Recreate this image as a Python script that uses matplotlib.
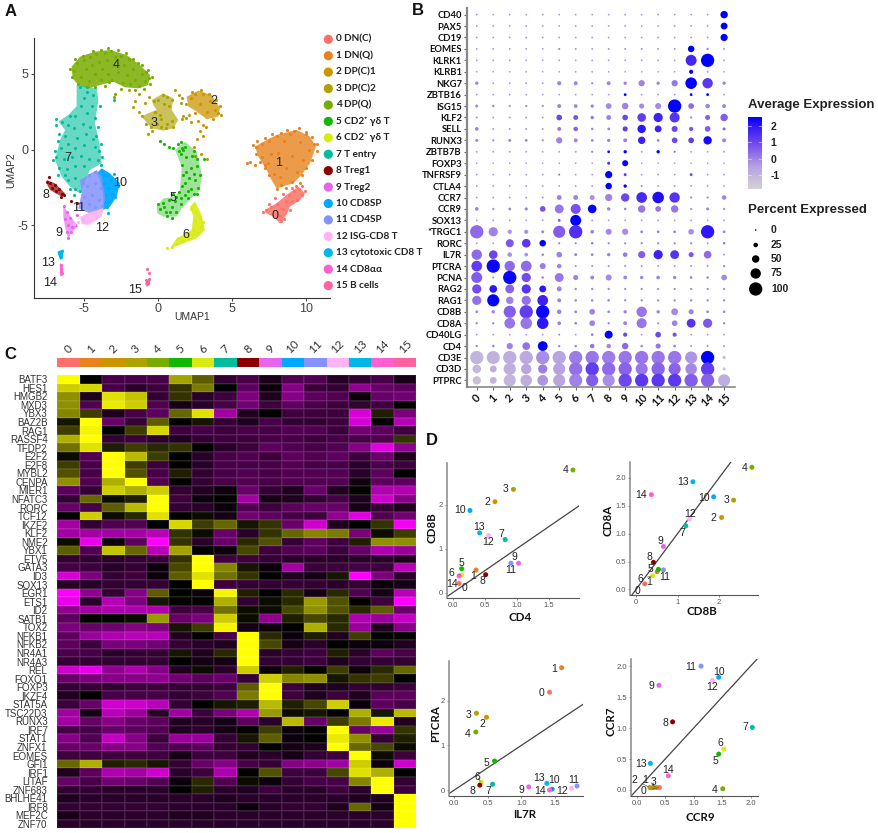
"""Thymus single-cell figure: UMAP, dot plot, heatmap and marker scatter panels."""
import matplotlib

matplotlib.use("Agg", force=True)
import matplotlib.pyplot as plt
import numpy as np
from matplotlib.colors import LinearSegmentedColormap, ListedColormap

W, H = 879, 833
ARIAL = "Liberation Sans"
CALIBRI = ["Lato", "DejaVu Sans"]
plt.rcParams["font.family"] = ARIAL
plt.rcParams["axes.unicode_minus"] = False

cluster_colors = ["#FF7069", "#E8821E", "#CC9500", "#AEA200", "#78AC00", "#11B800", "#D8EB10", "#00BE9C",
                  "#8B0000", "#E765EE", "#00A9FF", "#8492FF", "#FFB3F5", "#00B7E8", "#FF5FCF", "#FF62A0"]
cluster_names = ["0 DN(C)", "1 DN(Q)", "2 DP(C)1", "3 DP(C)2", "4 DP(Q)", "5 CD2\u207a \u03b3\u03b4 T",
                 "6 CD2\u207b \u03b3\u03b4 T", "7 T entry", "8 Treg1", "9 Treg2", "10 CD8SP", "11 CD4SP",
                 "12 ISG-CD8 T", "13 cytotoxic CD8 T", "14 CD8\u03b1\u03b1", "15 B cells"]

# Panel A: region covered by each cluster
hull_c0 = [(7.2, -3.98), (7.99, -3.54), (8.66, -2.99), (9.46, -2.44), (9.91, -2.88), (9.57, -3.32), (8.89, -3.76),
           (8.66, -4.31), (8.22, -4.86), (7.77, -4.42), (7.32, -4.2)]
hull_c1 = [(6.53, 0.2), (7.32, 0.64), (7.99, 0.97), (9.35, 1.3), (10.25, 0.86), (10.65, 0.2), (10.25, -0.9),
           (9.57, -1.78), (9.12, -2.22), (7.99, -2.55), (7.65, -2.0), (7.32, -1.34), (6.76, -0.46)]
hull_c2 = [(1.91, 3.49), (2.7, 3.89), (3.6, 3.6), (4.17, 2.73), (4.05, 2.18), (3.27, 2.0), (2.59, 2.51), (2.03, 2.84)]
hull_c3 = [(-0.45, 3.27), (0.34, 3.71), (1.01, 3.38), (0.9, 2.62), (1.35, 1.96), (1.01, 1.41), (0.34, 1.25),
           (-0.45, 1.41), (-1.13, 2.18), (-0.68, 2.4), (-0.11, 2.62), (-0.34, 2.95)]
hull_c4 = [(-5.86, 5.47), (-5.29, 6.13), (-4.28, 6.46), (-3.27, 6.57), (-2.14, 6.24), (-1.24, 5.58), (-0.56, 4.92),
           (-0.68, 4.26), (-1.35, 4.04), (-2.25, 4.11), (-3.04, 4.48), (-3.94, 4.26), (-4.73, 4.04), (-5.41, 4.26),
           (-5.79, 4.7)]
hull_c5 = [(-0.11, -3.76), (0.34, -3.21), (1.13, -3.1), (1.46, -2.66), (1.58, -1.12), (1.13, -0.02), (1.8, 0.53),
           (2.59, -0.13), (2.93, -1.56), (2.82, -2.66), (2.14, -3.27), (1.58, -3.87), (1.24, -4.42), (0.34, -4.42),
           (-0.07, -4.2)]
hull_c6 = [(2.14, -3.76), (2.48, -3.43), (2.93, -4.31), (3.15, -5.3), (2.59, -5.85), (1.69, -6.18), (0.79, -6.51),
           (1.24, -5.85), (2.25, -5.3), (2.36, -4.42)]
hull_c7 = [(-5.52, 4.26), (-4.17, 4.04), (-4.05, 3.27), (-4.28, 1.74), (-3.94, 0.2), (-3.83, -0.9), (-4.62, -1.34),
           (-5.29, -2.88), (-5.97, -2.44), (-6.53, -1.78), (-6.98, -0.68), (-6.64, 0.64), (-6.3, 1.3), (-6.75, 1.85),
           (-6.08, 2.29), (-5.52, 2.86)]
hull_c8 = [(-7.55, -2.0), (-6.98, -2.22), (-6.3, -2.88), (-6.53, -3.1), (-7.32, -2.66), (-7.5, -2.33)]
hull_c9 = [(-6.42, -3.65), (-6.08, -4.2), (-5.41, -5.08), (-5.86, -5.41), (-6.08, -5.96), (-6.3, -5.08), (-6.42, -4.42)]
hull_c10 = [(-3.83, -1.23), (-3.27, -1.56), (-2.59, -2.22), (-2.82, -3.1), (-3.27, -3.76), (-3.72, -3.98),
            (-3.72, -2.99), (-3.94, -2.0), (-4.17, -1.56)]
hull_c11 = [(-5.29, -2.0), (-4.17, -1.34), (-3.83, -1.78), (-3.6, -3.1), (-3.72, -3.87), (-4.62, -4.2), (-5.41, -3.87),
            (-5.18, -2.88)]
hull_c12 = [(-5.29, -4.42), (-4.5, -4.09), (-3.72, -3.87), (-3.83, -4.42), (-4.73, -4.97), (-5.18, -4.9)]
hull_c13 = [(-6.82, -6.73), (-6.42, -6.57), (-6.46, -7.16), (-6.64, -7.27)]
hull_c14 = [(-6.64, -7.49), (-6.46, -7.6), (-6.42, -8.26), (-6.64, -8.15)]
hull_c15 = [(-0.9, -8.81), (-0.56, -8.48), (-0.56, -8.92), (-0.79, -9.03)]
umap_hulls = [hull_c0, hull_c1, hull_c2, hull_c3, hull_c4, hull_c5, hull_c6, hull_c7, hull_c8, hull_c9, hull_c10,
              hull_c11, hull_c12, hull_c13, hull_c14, hull_c15]
hull_alpha = [0.85, 0.8, 0.75, 0.65, 0.85, 0.4, 0.9, 0.6, 0.7, 0.65, 0.95, 0.85, 0.9, 1.0, 1.0, 1.0]

# Panel A: individual cells
umap_c0 = [(7.3, -4.0), (7.6, -3.8), (8.0, -3.6), (8.2, -4.4), (8.4, -3.9), (8.6, -3.4), (8.8, -3.0), (9.0, -3.4),
           (9.2, -2.7), (9.5, -2.6), (9.7, -3.0), (9.4, -3.3), (8.3, -4.7), (7.9, -3.2), (9.0, -2.5), (7.1, -4.1),
           (7.5, -3.6), (8.5, -4.6), (8.9, -4.0), (9.9, -2.7), (9.7, -2.4), (8.4, -2.9)]
umap_c1 = [(6.0, -0.9), (6.2, -0.8), (6.5, -1.0), (6.6, 0.2), (7.0, 0.4), (7.0, -0.5), (7.2, -1.0), (7.5, 0.6),
           (7.6, -0.3), (7.8, -1.6), (8.0, 0.9), (8.1, -0.2), (8.3, -2.3), (8.5, 0.6), (8.6, -1.2), (8.9, 1.0),
           (9.0, -0.4), (9.2, 1.25), (9.4, -1.5), (9.6, 0.5), (9.8, -0.7), (10.0, 1.0), (10.2, 0.0), (10.5, 0.4),
           (9.0, -2.1), (9.6, -2.2), (6.4, 0.3), (6.7, 0.55), (7.2, 0.75), (7.7, 1.0), (8.3, 1.1), (8.7, 1.3), (9.5, 1.4),
           (10.0, 1.15), (10.4, 0.85), (10.7, 0.4), (10.7, -0.1), (10.4, -0.7), (10.0, -1.2), (9.7, -1.7), (7.5, -1.7),
           (7.2, -1.2), (6.9, -0.8), (6.6, -0.3), (8.0, -2.6), (8.6, -2.5), (9.3, -2.4), (8.2, -1.8), (7.4, -0.9)]
umap_c2 = [(1.9, 3.0), (2.2, 3.4), (2.5, 3.7), (2.8, 3.0), (3.0, 3.7), (3.3, 2.5), (3.5, 3.2), (3.8, 2.6), (4.0, 2.4),
           (3.0, 1.6), (2.8, 1.2), (2.6, 0.7), (2.4, 0.2), (3.0, 0.9), (2.7, 1.9), (3.2, 1.5), (1.7, 2.2), (2.1, 2.3),
           (2.3, 3.8), (2.9, 3.95), (3.4, 3.7), (3.9, 3.3), (4.2, 2.9), (4.25, 2.3), (3.7, 2.0), (2.5, 2.4), (2.2, 1.8),
           (2.9, -0.3), (3.3, -0.6), (2.5, -0.4)]
umap_c3 = [(-1.1, 2.2), (-0.9, 3.1), (-0.6, 3.5), (-0.5, 1.5), (-0.2, 2.5), (0.0, 3.3), (0.2, 2.0), (0.3, 3.6),
           (0.5, 1.4), (0.7, 2.9), (0.9, 1.9), (1.1, 3.9), (1.4, 3.6), (1.6, 2.0), (0.9, 3.3), (-1.6, 3.2), (-1.3, 3.7),
           (-2.0, 3.9), (-0.7, 1.0), (1.5, 3.1), (1.6, 3.4), (1.9, 2.1), (-0.3, 3.2), (0.4, 3.0), (0.6, 3.5), (-0.1, 1.7),
           (0.2, 1.5), (0.6, 1.7), (1.0, 1.5), (-0.8, 1.7), (-1.3, 2.5), (-1.7, 2.8), (-0.4, 1.2), (0.1, 2.3)]
umap_c4 = [(-5.7, 5.2), (-5.5, 5.7), (-5.2, 4.8), (-5.0, 5.9), (-4.9, 5.3), (-4.7, 4.5), (-4.6, 6.1), (-4.5, 5.6),
           (-4.3, 5.0), (-4.2, 6.3), (-4.0, 5.8), (-3.9, 4.6), (-3.8, 5.3), (-3.6, 6.4), (-3.5, 5.9), (-3.4, 5.0),
           (-3.2, 6.5), (-3.1, 4.6), (-3.0, 5.6), (-2.9, 6.1), (-2.7, 5.1), (-2.5, 6.2), (-2.4, 4.4), (-2.3, 5.6),
           (-2.1, 4.9), (-2.0, 6.0), (-1.9, 4.3), (-1.7, 5.3), (-1.6, 4.6), (-1.4, 5.7), (-1.3, 4.2), (-1.1, 5.0),
           (-0.9, 4.5), (-0.8, 5.1), (-0.6, 4.7), (-3.0, 3.5), (-2.9, 3.7), (-5.95, 5.3), (-5.8, 4.8), (-5.6, 6.0),
           (-5.4, 4.3), (-5.1, 6.2), (-4.8, 4.1), (-4.4, 6.5), (-3.9, 6.6), (-3.4, 6.7), (-2.7, 6.55), (-2.2, 6.35),
           (-1.7, 6.0), (-1.1, 5.6), (-0.7, 5.25), (-0.45, 4.8), (-0.55, 4.3), (-1.0, 4.0), (-1.6, 3.95), (-2.5, 4.0),
           (-3.3, 4.45), (-3.6, 4.2), (-4.3, 4.15)]
umap_c5 = [(0.1, 0.6), (0.4, 0.4), (0.7, 0.2), (1.0, 0.1), (1.3, 0.4), (1.5, -0.3), (1.7, 0.0), (2.3, -0.4), (2.6, -0.6),
           (3.1, -0.6), (1.6, -1.0), (1.9, -1.5), (2.2, -1.2), (2.5, -2.0), (2.8, -1.7), (1.8, -2.2), (2.2, -2.6),
           (2.7, -2.5), (1.4, -2.8), (1.8, -3.0), (0.1, -3.9), (0.3, -3.5), (0.5, -4.1), (0.7, -3.3), (0.9, -3.8),
           (1.1, -3.4), (1.2, -4.1), (1.5, -3.6), (0.6, -4.4), (0.9, -4.5), (2.0, -3.2), (2.4, -0.1), (1.0, -2.9),
           (1.5, 0.5), (1.8, 0.2), (1.6, 0.1), (1.4, -0.1), (1.9, -0.5), (1.7, -1.7), (2.1, -1.9), (2.4, -1.6), (2.6, -1.1),
           (1.6, -2.4), (2.0, -2.7), (2.4, -2.9), (1.2, -3.1), (0.0, -3.6), (0.4, -3.8), (0.8, -4.1), (1.5, -3.2), (2.6, -2.9)]
umap_c6 = [(2.2, -3.9), (2.4, -3.6), (2.6, -4.1), (2.8, -4.5), (2.5, -4.7), (2.9, -5.1), (3.0, -4.8), (2.4, -5.3),
           (2.7, -5.5), (2.0, -5.8), (1.6, -6.0), (1.2, -6.2), (0.9, -6.4), (0.6, -6.5), (1.3, -5.8), (2.0, -5.5)]
umap_c7 = [(-5.3, 4.1), (-4.8, 3.8), (-5.0, 3.4), (-4.4, 3.6), (-5.2, 2.9), (-4.5, 2.9), (-4.8, 2.4), (-4.3, 2.1),
           (-5.6, 2.2), (-6.0, 2.2), (-6.5, 1.8), (-6.1, 1.6), (-5.7, 1.4), (-5.1, 1.7), (-4.6, 1.5), (-6.7, 1.0),
           (-6.3, 0.9), (-5.5, 0.8), (-4.9, 1.0), (-4.4, 0.7), (-6.6, 0.1), (-6.1, 0.4), (-5.6, 0.1), (-5.0, 0.3),
           (-4.3, 0.2), (-4.0, -0.1), (-6.9, -0.5), (-6.4, -0.6), (-5.8, -0.5), (-5.2, -0.4), (-4.7, -0.6), (-4.1, -0.7),
           (-6.7, -1.2), (-6.2, -1.3), (-5.6, -1.1), (-5.0, -1.1), (-6.1, -2.0), (-5.6, -1.9), (-6.8, -1.7), (-5.6, -2.6),
           (-6.3, -1.7), (-5.3, -2.7), (-3.0, 3.3), (-6.9, 2.0), (-7.0, -0.1), (-7.1, -0.7), (-6.9, 1.6), (-6.75, 0.6),
           (-3.85, 0.4), (-3.8, -0.5), (-3.9, -1.0), (-4.2, 0.9), (-4.1, 1.5), (-3.95, 2.9), (-6.0, -2.6), (-5.7, -3.0)]
umap_c8 = [(-7.5, -2.1), (-7.3, -2.2), (-7.2, -2.5), (-7.0, -2.3), (-6.9, -2.7), (-6.7, -2.6), (-6.5, -2.9), (-6.4, -3.0),
           (-7.4, -1.8), (-5.9, -3.4), (-5.5, -3.5), (-6.6, -3.1)]
umap_c9 = [(-6.4, -3.7), (-6.2, -4.1), (-6.3, -4.6), (-6.0, -4.5), (-6.1, -5.0), (-5.8, -5.1), (-5.6, -5.0), (-5.9, -5.4),
           (-6.1, -5.8), (-6.2, -5.4), (-5.5, -4.3), (-5.1, -4.6)]
umap_c10 = [(-3.8, -1.4), (-3.5, -1.7), (-3.2, -2.0), (-3.7, -2.2), (-2.9, -2.3), (-3.4, -2.5), (-2.7, -2.4), (-3.1, -2.9),
            (-3.6, -3.0), (-2.9, -3.1), (-3.3, -3.4), (-3.5, -3.8), (-3.7, -1.7), (-3.0, -1.6), (-3.4, -4.2)]
umap_c11 = [(-5.1, -2.2), (-4.7, -1.7), (-4.3, -1.5), (-4.8, -2.4), (-4.3, -2.2), (-3.9, -2.5), (-5.0, -3.1), (-4.5, -3.0),
            (-4.0, -3.3), (-5.2, -3.7), (-4.7, -3.6), (-4.3, -3.8), (-3.8, -3.7)]
umap_c12 = [(-5.1, -4.5), (-4.8, -4.3), (-4.5, -4.2), (-4.2, -4.1), (-3.9, -4.0), (-4.6, -4.7), (-4.2, -4.5), (-5.0, -4.8),
            (-5.4, -4.8), (-5.7, -4.9)]
umap_c13 = [(-6.7, -6.8), (-6.6, -7.0), (-6.5, -6.7), (-6.55, -7.1)]
umap_c14 = [(-6.6, -7.6), (-6.55, -7.9), (-6.5, -8.1), (-6.6, -8.2)]
umap_c15 = [(-0.8, -8.6), (-0.7, -8.8), (-0.65, -8.5), (-0.75, -7.9), (-0.6, -8.1)]
umap_cells = [umap_c0, umap_c1, umap_c2, umap_c3, umap_c4, umap_c5, umap_c6, umap_c7, umap_c8, umap_c9, umap_c10,
              umap_c11, umap_c12, umap_c13, umap_c14, umap_c15]

umap_label_x = [7.89, 8.11, 3.78, -0.29, -2.88, 0.97, 1.87, -6.08, -7.61, -6.69, -2.59, -5.36, -3.82, -7.47, -7.32, -1.57]
umap_label_y = [-4.37, -0.90, 3.21, 1.74, 5.58, -3.2, -5.62, -0.57, -2.99, -5.47, -2.17, -3.86, -5.14, -7.45, -8.77, -9.25]

# Panel B: dot plot
dot_genes = ["CD40", "PAX5", "CD19", "EOMES", "KLRK1", "KLRB1", "NKG7", "ZBTB16", "ISG15", "KLF2", "SELL", "RUNX3",
             "ZBTB7B", "FOXP3", "TNFRSF9", "CTLA4", "CCR7", "CCR9", "SOX13", "*TRGC1", "RORC", "IL7R", "PTCRA", "PCNA",
             "RAG2", "RAG1", "CD8B", "CD8A", "CD40LG", "CD4", "CD3E", "CD3D", "PTPRC"]
pct_expressed = [
    [2, 2, 2, 2, 2, 2, 2, 2, 2, 2, 2, 2, 2, 2, 2, 50],
    [2, 2, 2, 2, 2, 2, 2, 2, 2, 2, 2, 2, 2, 2, 2, 45],
    [2, 2, 2, 2, 2, 2, 2, 2, 2, 2, 2, 2, 2, 2, 2, 48],
    [2, 2, 2, 2, 2, 4, 3, 2, 3, 3, 3, 3, 3, 42, 6, 3],
    [2, 2, 2, 2, 2, 2, 2, 2, 2, 2, 2, 2, 2, 80, 100, 2],
    [1, 1, 1, 1, 1, 1, 1, 1, 1, 1, 1, 1, 1, 22, 3, 1],
    [15, 3, 3, 3, 3, 22, 20, 6, 20, 15, 40, 15, 40, 85, 75, 15],
    [2, 2, 2, 2, 2, 2, 2, 2, 2, 10, 2, 2, 2, 10, 10, 2],
    [12, 8, 6, 6, 6, 20, 18, 15, 35, 42, 30, 38, 100, 35, 25, 20],
    [4, 3, 3, 3, 3, 35, 28, 15, 28, 35, 60, 65, 72, 6, 30, 50],
    [18, 3, 3, 3, 3, 20, 25, 8, 10, 30, 58, 45, 38, 22, 35, 12],
    [12, 6, 12, 10, 6, 40, 20, 10, 15, 20, 50, 10, 35, 35, 58, 20],
    [2, 2, 2, 2, 2, 2, 2, 5, 10, 15, 2, 15, 4, 2, 2, 2],
    [1, 1, 1, 1, 1, 1, 1, 1, 12, 38, 1, 1, 1, 1, 1, 1],
    [2, 2, 2, 2, 2, 3, 2, 2, 48, 12, 2, 2, 2, 12, 2, 2],
    [2, 2, 2, 2, 2, 2, 2, 2, 42, 15, 3, 2, 2, 2, 2, 2],
    [2, 2, 2, 2, 3, 28, 28, 28, 48, 58, 78, 85, 75, 5, 5, 25],
    [18, 6, 10, 14, 35, 62, 72, 60, 16, 8, 50, 35, 50, 5, 12, 5],
    [2, 2, 2, 2, 2, 10, 80, 2, 2, 2, 2, 2, 2, 2, 2, 2],
    [100, 65, 22, 22, 12, 90, 100, 18, 38, 40, 10, 10, 10, 35, 100, 10],
    [3, 3, 55, 60, 42, 5, 5, 8, 5, 5, 5, 5, 5, 5, 3, 8],
    [75, 60, 25, 18, 8, 35, 12, 10, 15, 25, 48, 65, 62, 30, 52, 3],
    [78, 100, 75, 78, 38, 25, 4, 4, 4, 4, 3, 3, 3, 3, 3, 6],
    [80, 5, 100, 65, 8, 62, 30, 20, 38, 18, 15, 18, 15, 10, 8, 35],
    [65, 52, 62, 65, 45, 28, 6, 6, 6, 5, 5, 5, 5, 5, 5, 5],
    [65, 90, 50, 65, 78, 20, 8, 8, 8, 6, 6, 6, 6, 6, 6, 6],
    [10, 15, 90, 100, 100, 25, 10, 35, 10, 15, 75, 15, 45, 30, 10, 8],
    [6, 6, 78, 85, 85, 18, 10, 35, 6, 20, 72, 4, 35, 62, 65, 6],
    [2, 2, 2, 2, 2, 3, 2, 8, 55, 22, 2, 35, 22, 2, 2, 2],
    [6, 8, 40, 52, 70, 6, 8, 25, 25, 42, 8, 30, 10, 3, 3, 3],
    [100, 98, 100, 100, 100, 100, 100, 100, 100, 100, 100, 100, 100, 90, 100, 15],
    [60, 45, 90, 75, 65, 90, 100, 100, 100, 100, 90, 100, 90, 85, 100, 12],
    [58, 45, 90, 85, 78, 90, 98, 90, 90, 100, 100, 100, 100, 100, 100, 90],
]
avg_expression = [
    [-0.3, -0.3, -0.3, -0.3, -0.3, -0.3, -0.3, -0.3, -0.3, -0.3, -0.3, -0.3, -0.3, -0.3, -0.3, 2.5],
    [-0.3, -0.3, -0.3, -0.3, -0.3, -0.3, -0.3, -0.3, -0.3, -0.3, -0.3, -0.3, -0.3, -0.3, -0.3, 2.5],
    [-0.3, -0.3, -0.3, -0.3, -0.3, -0.3, -0.3, -0.3, -0.3, -0.3, -0.3, -0.3, -0.3, -0.3, -0.3, 2.5],
    [-0.3, -0.3, -0.3, -0.3, -0.3, 0, -0.2, -0.3, -0.2, -0.2, -0.2, -0.2, -0.2, 2.5, 0, -0.3],
    [-0.3, -0.3, -0.3, -0.3, -0.3, -0.3, -0.3, -0.3, -0.3, -0.3, -0.3, -0.3, -0.3, 1.7, 2.5, -0.3],
    [-0.3, -0.3, -0.3, -0.3, -0.3, -0.3, -0.3, -0.3, -0.3, -0.3, -0.3, -0.3, -0.3, 2.5, -0.3, -0.3],
    [0, -0.3, -0.3, -0.3, -0.3, 0, 0, -0.2, 0, 0, 0, 0, 0.2, 2.5, 1.3, 0],
    [-0.3, -0.3, -0.3, -0.3, -0.3, -0.3, -0.3, -0.3, -0.3, 2.5, -0.3, -0.3, -0.3, 2.5, 2.5, -0.3],
    [-0.1, -0.2, -0.2, -0.2, -0.2, 0, 0, 0, -0.1, 0, -0.1, -0.1, 2.5, 0.4, 0, 0],
    [-0.2, -0.3, -0.3, -0.3, -0.3, 1, 0.8, 0.2, 0, 1, 1.2, 1.8, 1.4, -0.1, 0.5, 0.6],
    [0, -0.3, -0.3, -0.3, -0.3, 0.2, 0.5, 0, 0, 1.2, 2, 1.8, 1, 0.8, 0.6, 0.5],
    [0, -0.2, 0, 0, -0.2, 0, 0, 0, 0, 0, 1.8, 0, 1, 1.2, 2.3, 0],
    [-0.3, -0.3, -0.3, -0.3, -0.3, -0.3, -0.3, 0, 2.3, 2.5, -0.3, 2.5, 0.5, -0.3, -0.3, -0.3],
    [-0.3, -0.3, -0.3, -0.3, -0.3, -0.3, -0.3, -0.3, 1.5, 2.5, -0.3, -0.3, -0.3, -0.3, -0.3, -0.3],
    [-0.3, -0.3, -0.3, -0.3, -0.3, 0.5, -0.3, -0.3, 2.5, 1.2, -0.3, -0.3, -0.3, 0.8, -0.3, -0.3],
    [-0.3, -0.3, -0.3, -0.3, -0.3, -0.3, -0.3, -0.3, 2.5, 2.5, 0, -0.3, -0.3, -0.3, -0.3, -0.3],
    [-0.3, -0.3, -0.3, -0.3, -0.2, 0, 0, -0.2, 0, 1, 1.6, 2.2, 1.4, -0.1, -0.1, 0],
    [0, -0.2, 0, 0, 0.8, 0.2, 0.8, 2.5, 0, 0, 0.2, 0.2, 0.2, -0.1, 0, -0.1],
    [-0.3, -0.3, -0.3, -0.3, -0.3, 0.8, 2.5, -0.3, -0.3, -0.3, -0.3, -0.3, -0.3, -0.3, -0.3, -0.3],
    [0.4, 0, -0.2, -0.2, 0, 0.6, 1.5, 0, -0.1, -0.2, 0, 0, 0, -0.2, 2, 0],
    [-0.3, -0.3, 0.7, 1.3, 2.5, 0, 0, 0.2, 0, 0, 0, 0, 0, 0, -0.2, 0.2],
    [0.4, 1, -0.2, -0.2, 0, 0, 0, 0, 0, 0.2, 0.6, 1.8, 1.4, 0.7, 0.4, -0.3],
    [1.2, 2.4, 0.4, 0.4, 0.1, 0, -0.2, -0.2, -0.2, -0.2, -0.2, -0.2, -0.2, -0.2, -0.2, 0],
    [0.6, -0.2, 2.4, 0.9, 0, 0.2, 0, 0, -0.1, 0, 0, 0, 0, 0, 0, -0.1],
    [0.9, 2, 0.5, 1.4, 2, 0, 0, 0, 0, 0, 0, 0, 0, 0, 0, 0],
    [0.3, 2.5, 0, 0.3, 1.8, 0, 0, 0, 0, 0, 0, 0, 0, 0, 0, 0],
    [0, 0, 0.6, 1.2, 2.4, 0, 0, 0, 0, 0, 0.2, 0, -0.1, 0, 0, 0],
    [0, 0, 0.2, 0.2, 2, 0, 0, 0, 0, 0, 0.2, 0, 0, 1.4, 0.7, 0],
    [-0.3, -0.3, -0.3, -0.3, -0.3, 0, -0.3, 0.3, 2.5, 1, -0.3, 1, 0.8, -0.3, -0.3, -0.3],
    [0, 0, 0, 0.3, 2.5, 0, 0, 0.2, -0.1, 0.4, 0, 0.2, 0, -0.1, -0.1, -0.1],
    [-1, -0.9, -0.8, -0.7, -0.2, -0.6, 0.1, 0.2, 0.1, 0.2, 0.2, 0.2, 0.2, -0.3, 2.5, -1.4],
    [-1.1, -0.8, -0.8, -0.6, 0.1, -0.5, 0.3, 1.2, 0.4, 0.5, 0.2, 0.5, 0.5, -0.1, 1.2, -1.4],
    [-1.3, -1, -1, -0.8, -0.3, -0.6, 0, 0.6, -0.2, 1, 1.3, 1.3, 1.3, 0.6, 0.5, -0.8],
]
colorbar_ticks = [2, 1, 0, -1]
size_legend_pct = [0, 25, 50, 75, 100]

# Panel C: heatmap (scaled expression)
heat_genes = ["BATF3", "HES1", "HMGB2", "MXD3", "YBX3", "BAZ2B", "RAG1", "RASSF4", "TFDP2", "E2F2", "E2F8", "MYBL2",
              "CENPA", "MIER1", "NFATC3", "RORC", "TCF12", "IKZF2", "KLF2", "NME2", "YBX1", "ETV5", "GATA3", "ID3",
              "SOX13", "EGR1", "ETS1", "ID2", "SATB1", "TOX2", "NFKB1", "NFKB2", "NR4A1", "NR4A3", "REL", "FOXO1",
              "FOXP3", "IKZF4", "STAT5A", "TSC22D3", "RUNX3", "IRF7", "STAT1", "ZNFX1", "EOMES", "GFI1", "IRF1", "LITAF",
              "ZNF683", "BHLHE41", "IRF8", "MEF2C", "ZNF70"]
heat_values = [
    [2.5, 0, -.7, -.7, -.7, 1.6, .9, -.5, -.7, -.25, -.8, -.8, -.35, -.5, -.7, -.25],
    [2, 2.1, -.7, -.4, -.6, .5, 1.2, 0, -.9, -.1, -1.3, -.6, -.5, -1.4, -1, -.9],
    [1.4, -.3, 2.2, 1.9, -.5, .5, -.4, -.6, -1.2, -.3, -1.3, -.9, -.8, -.1, -1, -1.1],
    [1.4, -.8, 2.3, 2, -.8, -.2, -.4, -.7, -1.1, -.6, -.9, -.7, -.6, -.5, -.6, 0],
    [1.3, .6, -.3, -.7, -.9, 1, 2.2, -1.6, -.3, 0, -.6, -.6, -.6, -2.1, .3, -1.2],
    [.2, 2.5, -1, -.5, .9, 0, .2, -.5, -.3, -.7, -.5, -.5, -.6, -2.1, 0, -1.8],
    [.6, 2.4, 0, .6, 2.1, -.6, -.7, -.6, -.7, -.7, -.8, -.8, -.6, -1.1, -.9, -.6],
    [1.7, 2.5, -.5, -.6, -.4, -.3, -.5, -.6, -.6, -.7, -.7, -.6, -.7, -.7, -.8, .5],
    [1.1, 2.2, .3, .6, .4, .5, 0, -.4, -.6, -.9, -.8, -.7, -.8, -1.3, -2.2, -1.4],
    [.1, -.8, 2.5, 1.8, .6, 0, -.4, -.7, -.8, -.6, -.9, -.8, -.9, -.6, -1, -.3],
    [.6, -.7, 2.5, .6, -.6, 0, -.4, -.7, -.7, -.7, -.8, -.7, -.7, -.4, -.7, -.6],
    [.8, -.7, 2.5, .8, -.7, .3, -.5, -.7, -.8, -.7, -.8, -.8, -.8, -.4, -.9, 0],
    [1.4, -.8, 1.7, 2.5, -.8, 0, -.5, -.7, -.8, -.7, -.8, -.8, -.8, -.15, -.9, -.9],
    [-.9, -.5, 2, 1.7, 2, -.5, -.3, -.1, -1, -.5, -.3, -1, -.3, .05, -1.7, -1.7],
    [-.5, 1, .1, .3, 2.5, -.6, -.1, 0, -1.6, -.2, -.3, -.5, -.7, -.3, -2, -1.3],
    [-1, -.7, .9, 1.8, 2.5, -.5, -.4, -.1, -.8, -.6, -.9, -1, -1, -.2, -.5, -.3],
    [0, 2, .1, .4, 2.2, 0, .1, -.2, -1.1, -.9, -.7, -.6, -1.4, -2.2, -.8, -1.1],
    [-1.6, -.5, -.8, -.8, 0, 2.1, .6, 1, .2, .5, -1, -2, -.3, 0, .5, -2.4],
    [-1.6, -1.6, -1.6, -1.6, -1.8, .5, .1, -1, -.4, .5, 1, 1.3, 1.2, -1.2, .1, .6],
    [.1, -2.3, -.1, -.9, -2.5, .5, -.4, -1, .4, .8, -.5, -.9, -.6, .3, 1.4, 1.4],
    [.9, -.8, 1.9, 1, -1.8, 1.6, 0, -.1, .7, -.6, -.8, -.9, -.6, -1, -1.7, -1.5],
    [-.5, -.5, -.4, -.5, -.5, .5, 2.5, -.6, -.6, -.5, -.4, -.4, -.4, -.4, -.4, -.3],
    [-.7, -.6, -.4, -.5, -.1, .7, 2.5, 1.3, .2, -.1, -1.6, -.6, -.6, -.7, -.6, -1.8],
    [-2.1, -1.2, -.5, -.6, -.1, .9, 2.2, 1.1, .5, 0, -.3, -.2, .2, -2.5, -1.2, -.4],
    [-.4, -.4, -.5, -.5, -.5, 0, 2.5, -.6, -.5, -.5, -.5, -.5, -.4, -.5, -.1, -.2],
    [-2.5, -1.4, -.5, -1.3, .9, 0, -.1, 2.4, .3, 0, .4, -.2, .4, -.8, -.2, -1.8],
    [-2.3, -.4, -1.8, -1.2, .2, 0, 0, 1.7, -.5, .1, .4, 1.5, .8, 0, -.6, -2.5],
    [-1.4, -1.6, -1.7, -1.7, -1.7, -.6, -.7, 1.1, .1, .1, .7, 1.4, .8, .4, .9, -1],
    [-.9, 0, 0, .1, 1.5, -1, -1.2, 2, .1, -1.4, .3, .7, .4, -1.7, -1.5, -1.9],
    [-1.2, -1, -1.1, -1.3, -1.2, .2, .6, 2.4, -.2, -.1, 0, 1.7, .4, -1.5, -.3, -1.3],
    [-.9, -1.5, -1.7, -1.8, -1.8, -.3, 0, -.7, 2.5, .4, -.1, .3, -.3, .6, 0, .05],
    [-.9, -.6, -1.2, -1.2, -1.1, -.5, -.4, -.3, 2.5, .7, -.2, -.4, 0, -.1, -.1, -.3],
    [-.7, -.7, -.4, -.5, -.5, .2, -.3, .4, 2.5, -.4, -.5, -.6, .3, -.4, -.9, -.7],
    [-.5, -.5, -.5, -.5, -.5, 0, -.2, -.2, 2.5, -.5, -.5, -.6, -.3, -.5, -.5, -.5],
    [-2, -2.3, -1.4, -1.7, -1.3, -.3, .1, -.4, 2, -.1, .3, .05, .6, -.1, .4, 1],
    [-1, -1.2, -1.3, -1.3, -1.4, -1.1, -.9, -1, -.5, 2, 1.3, 1.4, .2, .5, .6, 0],
    [-.5, -.5, -.5, -.6, -.6, -.5, -.5, -.6, .9, 2.5, -.6, -.3, -.3, -.5, -.5, -.6],
    [-.3, 0, -.7, -.7, -.7, -.5, -.6, -.8, 1.2, 2.5, -.6, -.3, -.6, -.3, -.9, -.9],
    [-.6, -1, -2, -2, -1.8, -.5, 0, .2, .3, 1.8, .3, .7, 2, -.1, -.9, -.7],
    [-1.6, -.2, -1.8, -1.5, -.4, -1.6, -.6, -1.2, -1.7, 1.5, .1, .2, 0, 1.7, .2, 1.8],
    [-1.6, -1, -1.3, -1, -.9, -.3, -.4, -.2, -.9, -.4, 1.8, -1, .6, 1.2, 2.3, -.3],
    [-.7, -.7, -1, -.9, -.8, -.3, -.4, -.2, 0, .6, -.1, 0, 2.5, -1, -1.5, .5],
    [-1.3, -.8, -1.9, -1.3, -.6, -1.5, -1.5, -.5, .2, .9, -.1, 0, 2.3, 1.4, -.5, .3],
    [-1, -1, -1.3, -1.3, -.8, -.8, -.9, -.5, -.5, 0, -.2, -.3, 2.5, 1, .7, .1],
    [-.6, -.6, -.6, -.6, -.6, -.2, -.6, -.6, -.3, -.4, -.2, -.5, -.6, 2.5, .1, -.6],
    [1, 1.7, .3, .4, .2, -.5, -1, -1.3, -.7, -.5, -1.3, -1.4, -1.6, 2, -.1, -2],
    [-.3, -.9, -1.7, -1.6, -2, -.4, -.6, -1.7, 0, .8, -.6, -.6, .7, 2.2, 1.7, 0],
    [-1, -.7, -1.1, -1, -.8, -.1, .4, -.8, .1, -.1, -.5, -.7, -.7, 1.3, 2.5, -.5],
    [-.5, -.5, -.4, -.4, -.4, 0, .3, -.4, -.3, -.6, -.4, -.4, -.6, -.4, 2.5, -.6],
    [-.3, -.4, -.4, -.4, -.4, -.4, -.4, -.3, -.4, -.4, -.4, -.4, -.4, -.3, -.3, 2.5],
    [-.5, -.5, -.5, -.5, -.5, -.4, -.4, -.4, -.1, -.4, -.5, -.5, -.3, 1, -.2, 2.5],
    [-.25, -.4, -.4, -.4, -.4, -.3, -.3, -.4, -.4, -.4, -.4, -.4, -.4, -.4, -.4, 2.5],
    [-.4, -.4, -.4, -.4, -.4, -.4, -.4, -.4, -.4, -.4, -.4, -.4, -.4, -.4, -.4, 2.5],
]

# Panel D: average expression per cluster (clusters 0-14)
cd4_x = [.10, .365, .66, .95, 1.88, .14, .14, .82, .515, 1.03, .27, .91, .56, .42, .10]
cd8b_y = [.21, .515, 2.07, 2.35, 2.79, .545, .40, 1.21, .41, .67, 1.87, .67, 1.30, 1.36, .38]
cd8b_x = [.21, .51, 2.06, 2.35, 2.79, .54, .40, 1.20, .42, .66, 1.87, .66, 1.29, 1.37, .37]
cd8a_y = [.10, .32, 1.29, 1.60, 2.19, .36, .245, 1.14, .485, .77, 1.66, .35, 1.26, 1.93, 1.70]
il7r_x = [1.42, 1.60, .48, .33, .32, .60, .40, .57, .38, 1.11, 1.46, 1.83, 1.75, 1.38, 1.42]
ptcra_y = [2.19, 2.74, 1.63, 1.72, 1.30, .65, .17, .13, .11, .07, .02, .09, .04, .15, .0]
ccr9_x = [.40, .35, .23, .29, 1.51, 1.44, 1.53, 2.03, .63, .39, 1.44, 1.13, 1.33, .24, .555]
ccr7_y = [.04, .04, .04, .04, .02, .58, .66, 1.01, 1.10, 1.69, 1.82, 2.0, 1.77, .43, .23]

# label offsets from each point, in pixels
cd8b_offsets = [(5, -4.3), (-3.3, -6), (-7.3, -.3), (-7.7, 0), (-7.7, 0), (-.3, 6), (-10, 2.3), (-3.7, 6), (-3.3, -6.7),
                (-3.7, 6), (-10, 0), (-.3, -6.7), (-.3, -6.7), (-.3, 6), (-7, -8)]
cd8a_offsets = [(-7.3, -7), (-7.7, -10.7), (-7.7, -1), (-7.3, 0), (-7.3, -.7), (-8.3, .3), (-12.3, -3), (-3.7, -6.7),
                (-3.7, 5.7), (-3, 5.3), (-9.7, -1), (1, -6.7), (.3, 5), (-9.7, 0), (-10, -.7)]
ptcra_offsets = [(-7.7, -1), (-7.7, -1.7), (-3.7, -6.3), (-7.7, -1.3), (-7.7, -2), (-7.7, -1.7), (-3.7, 5.3), (-4, -6.7),
                 (-7.7, -6.3), (-7.7, -2.7), (2.3, 8.7), (-3.3, 5.7), (-10, -2.7), (-7.7, 5.3), (-10, -1)]
ccr7_offsets = [(-16, -3.3), (-11.7, 7.3), (-15, 7.7), (.7, 6), (-7.7, -1.3), (-3, -6.7), (-3.7, 6), (-7, 0), (-7, -.7),
                (-7.3, -.7), (0, 5.7), (-10, -1), (0, -6.3), (-9.7, -.3), (0, 5.7)]


def px_axes(fig, left, top, right, bottom):
    """Axes placed by pixel edges, measured from the top left."""
    return fig.add_axes([left / W, 1 - bottom / H, (right - left) / W, (bottom - top) / H])


def dot_area(pct):
    """Marker area (pt^2) for a percent expressed value."""
    return ((1.6 + 0.117 * np.asarray(pct, dtype=float)) * 0.72) ** 2


def draw_umap(fig):
    ax = px_axes(fig, 34.3, 38, 330, 297.7)
    for idx, color in enumerate(cluster_colors):
        ax.fill(*zip(*umap_hulls[idx]), color=color, alpha=hull_alpha[idx], lw=0)
        xs, ys = zip(*umap_cells[idx])
        ax.scatter(xs, ys, s=5, color=color, lw=0)
    for idx in range(16):
        ax.text(umap_label_x[idx], umap_label_y[idx], str(idx), fontsize=9, color="#222222", ha="center", va="center")
    ax.set_xlim(-8.38, 11.6)
    ax.set_ylim(-9.76, 7.36)
    ax.set_xticks([-5, 0, 5, 10])
    ax.set_yticks([-5, 0, 5])
    ax.tick_params(labelsize=9, labelcolor="#444444", color="#444444", length=2, width=0.7, pad=2)
    ax.spines[["top", "right"]].set_visible(False)
    ax.spines[["left", "bottom"]].set_color("#333333")
    return ax


def draw_dotplot(fig, cmap):
    ax = px_axes(fig, 466.7, 8, 735, 387)
    n_rows = len(dot_genes)
    cols, rows = np.meshgrid(np.arange(16), np.arange(n_rows))
    ax.scatter(cols.ravel(), rows.ravel(), s=dot_area(pct_expressed).ravel(), c=np.ravel(avg_expression), cmap=cmap,
               vmin=-1.85, vmax=2.53, lw=0)
    ax.set_xlim(-0.61, 15.66)
    ax.set_ylim(32 + 0.58, -0.58)
    ax.set_xticks(range(16))
    ax.set_xticklabels(range(16), rotation=45, family=CALIBRI, fontweight="bold", fontsize=8)
    ax.set_yticks(range(n_rows))
    ax.set_yticklabels(dot_genes, family=CALIBRI, fontweight="bold", fontsize=6.8)
    ax.tick_params(length=2, width=0.8, color="#666666", pad=1.5, labelcolor="#111111")
    ax.spines[["top", "right"]].set_visible(False)
    ax.spines["left"].set_linewidth(1.6)
    ax.spines["left"].set_color("#888888")
    ax.spines["bottom"].set_linewidth(1.2)
    ax.spines["bottom"].set_color("#888888")

    cax = px_axes(fig, 748.3, 117.3, 762.3, 189.3)
    gradient = np.linspace(2.53, -1.85, 200)[:, None]
    cax.imshow(gradient, cmap=cmap, vmin=-1.85, vmax=2.53, aspect="auto", extent=[0, 1, -1.85, 2.53])
    cax.set_xticks([])
    cax.yaxis.tick_right()
    cax.set_yticks(colorbar_ticks)
    cax.set_yticklabels(colorbar_ticks, fontweight="bold", fontsize=7.5)
    cax.tick_params(axis="y", length=0, pad=6, labelcolor="#222222")
    for tick in colorbar_ticks:
        cax.plot([0, 0.2], [tick, tick], color="white", lw=0.5, alpha=0.7)
        cax.plot([0.8, 1], [tick, tick], color="white", lw=0.5, alpha=0.7)
    cax.set_xlim(0, 1)
    for spine in cax.spines.values():
        spine.set_visible(False)


def draw_heatmap(fig, cmap):
    ax = px_axes(fig, 57.3, 375, 416.3, 828.3)
    ax.pcolormesh(np.arange(17), np.arange(len(heat_genes) + 1), np.array(heat_values), cmap=cmap, vmin=-2.5, vmax=2.5,
                  edgecolors=(1, 1, 1, 0.07), linewidth=0.3)
    ax.set_ylim(len(heat_genes), 0)
    ax.set_xticks([])
    ax.set_yticks(np.arange(len(heat_genes)) + 0.5)
    ax.set_yticklabels(heat_genes, fontsize=7, color="#333333")
    ax.tick_params(length=0, pad=7)
    for spine in ax.spines.values():
        spine.set_visible(False)

    bar = px_axes(fig, 57.3, 358.3, 416.3, 367.3)
    bar.pcolormesh(np.arange(17), [0, 1], np.arange(16)[None, :], cmap=ListedColormap(cluster_colors))
    bar.set_yticks([])
    bar.xaxis.tick_top()
    bar.set_xticks(np.arange(16) + 0.5)
    bar.set_xticklabels(range(16), rotation=45, family=CALIBRI, fontsize=8.5, color="#333333")
    bar.tick_params(length=0, pad=2)
    for spine in bar.spines.values():
        spine.set_visible(False)


def draw_marker_panel(fig, edges, xs, ys, offsets, xlim, ylim, xticks, yticks, xtick_fmt, ytick_fmt, leaders):
    ax = px_axes(fig, *edges)
    ax.plot([-1, 4], [-1, 4], color="#444444", lw=0.9, zorder=1)
    ax.scatter(xs, ys, s=13, c=cluster_colors[:len(xs)], lw=0, zorder=3)
    for idx, (x, y, (dx, dy)) in enumerate(zip(xs, ys, offsets)):
        arrow = dict(arrowstyle="-", lw=0.4, color="#444444", shrinkA=1, shrinkB=1) if idx in leaders else None
        ax.annotate(str(idx), (x, y), xytext=(dx * 0.72, dy * 0.72), textcoords="offset points", ha="center",
                    va="center", fontsize=7.5, color="#222222", arrowprops=arrow, zorder=4)
    ax.set_xlim(*xlim)
    ax.set_ylim(*ylim)
    ax.set_xticks(xticks)
    ax.set_xticklabels([xtick_fmt.format(t) for t in xticks], fontsize=5.5, color="#555555")
    ax.set_yticks(yticks)
    ax.set_yticklabels([ytick_fmt.format(t) for t in yticks], fontsize=5.5, color="#555555")
    ax.tick_params(length=1.5, width=0.5, color="#666666", pad=1.5)
    ax.spines[["top", "right"]].set_visible(False)
    ax.spines["left"].set_linewidth(1.1)
    ax.spines["left"].set_color("#888888")
    ax.spines["bottom"].set_linewidth(0.8)
    ax.spines["bottom"].set_color("#555555")
    return ax


def main():
    fig = plt.figure(figsize=(W / 100, H / 100), dpi=100, facecolor="white")

    overlay = fig.add_axes([0, 0, 1, 1], zorder=10)
    overlay.set_xlim(0, W)
    overlay.set_ylim(H, 0)
    overlay.axis("off")

    dot_cmap = LinearSegmentedColormap.from_list(
        "grey_blue", [(0, "#D3D3D3"), (0.3, "#B8A4E2"), (0.6, "#7A52EC"), (0.85, "#3A1CF5"), (1, "#0000FF")])
    heat_cmap = LinearSegmentedColormap.from_list("purple_yellow", ["#FF00FF", "#000000", "#FFFF00"])

    draw_umap(fig)
    draw_dotplot(fig, dot_cmap)
    draw_heatmap(fig, heat_cmap)

    draw_marker_panel(fig, (446.7, 463, 578.7, 598.3), cd4_x, cd8b_y, cd8b_offsets, (-.094, 1.97), (-.127, 2.95),
                      [0, .5, 1, 1.5], [0, 1, 2], "{:.1f}", "{:.0f}", {6})
    draw_marker_panel(fig, (630, 461.7, 757.7, 595), cd8b_x, cd8a_y, cd8a_offsets, (-.145, 2.93), (-.10, 2.29),
                      [0, 1, 2], [0, .5, 1, 1.5, 2], "{:.0f}", "{:.1f}", {0, 1, 6})
    draw_marker_panel(fig, (449, 661, 582.7, 796), il7r_x, ptcra_y, ptcra_offsets, (-.08, 1.915), (-.134, 2.89),
                      [0, .5, 1, 1.5], [0, 1, 2], "{:.1f}", "{:.0f}", {6, 8, 10})
    draw_marker_panel(fig, (631, 659.3, 758, 796), ccr9_x, ccr7_y, ccr7_offsets, (-.10, 2.13), (-.097, 2.11),
                      [0, .5, 1, 1.5, 2], [0, .5, 1, 1.5, 2], "{:.1f}", "{:.1f}", {0, 1, 2, 3})

    # panel letters
    for letter, x, y in [("A", 10.7, 11.7), ("B", 418.3, 10), ("C", 10, 354), ("D", 431.7, 440)]:
        overlay.text(x, y, letter, fontweight="bold", fontsize=12, ha="center", va="center", color="#111111")

    # panel A axis titles and cluster legend
    overlay.text(191.7, 316.7, "UMAP1", fontsize=7.5, ha="center", va="center", color="#333333")
    overlay.text(11.7, 170, "UMAP2", fontsize=7.5, ha="center", va="center", rotation=90, color="#333333")
    legend_y = 39.3 + 16.42 * np.arange(16)
    overlay.scatter(np.full(16, 328.3), legend_y, s=dot_area(65), c=cluster_colors, lw=0)
    for name, y in zip(cluster_names, legend_y):
        overlay.text(336, y, name, family=CALIBRI, fontweight="bold", fontsize=7.2, ha="left", va="center", color="#222222")

    # panel B legends
    overlay.text(748, 104.7, "Average Expression", fontweight="bold", fontsize=9.5, ha="left", va="center", color="#222222")
    overlay.text(748, 210, "Percent Expressed", fontweight="bold", fontsize=9.5, ha="left", va="center", color="#222222")
    size_y = [230, 245, 259, 273.5, 289]
    overlay.scatter(np.full(5, 755.7), size_y, s=dot_area(size_legend_pct), c="black", lw=0)
    for pct, y in zip(size_legend_pct, size_y):
        overlay.text(771, y, str(pct), fontweight="bold", fontsize=7.5, ha="left", va="center", color="#222222")

    # panel D axis titles
    for text, x, y, rotation in [("CD4", 520.3, 617.3, 0), ("CD8B", 431.7, 527.3, 90), ("CD8B", 702.3, 611.7, 0),
                                 ("CD8A", 608.3, 520.7, 90), ("IL7R", 524.3, 814.3, 0), ("PTCRA", 435.7, 723.3, 90),
                                 ("CCR9", 700, 817.3, 0), ("CCR7", 610.7, 721, 90)]:
        overlay.text(x, y, text, family=CALIBRI, fontweight="bold", fontsize=8.3, ha="center", va="center",
                     rotation=rotation, color="#111111")

    fig.savefig("out.png", dpi=100)
    plt.close(fig)


if __name__ == "__main__":
    main()
